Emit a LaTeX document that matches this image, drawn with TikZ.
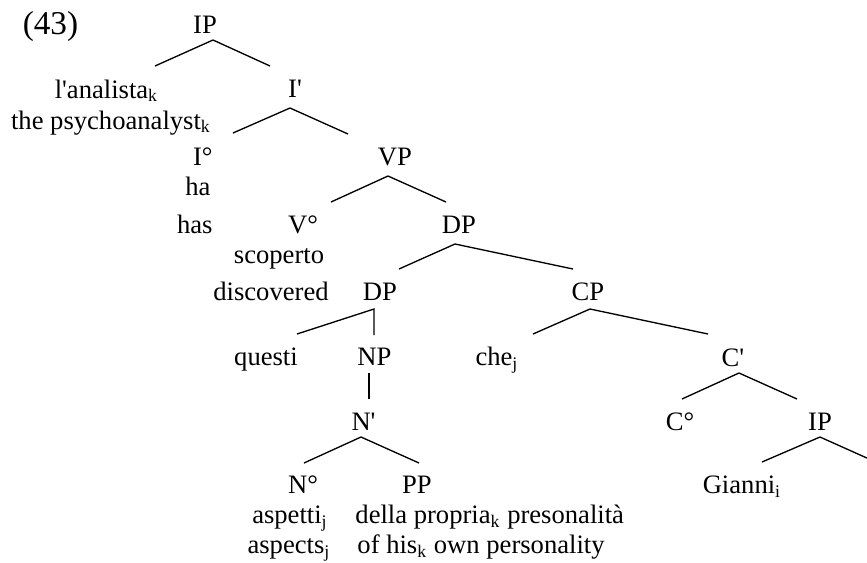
\documentclass[tikz,border=0pt]{standalone}
\usepackage{fontspec}
\setmainfont{Liberation Serif}
\usepackage{tikz}
\usetikzlibrary{positioning}
\newcommand{\apos}{\textquotesingle}

\begin{document}
\begin{tikzpicture}[x=0.451pt,y=-0.451pt,font=\fontsize{12}{14}\selectfont,word/.style = {inner sep = 0pt, anchor = base},wordr/.style = {inner sep = 0pt, anchor = base east},wordl/.style = {inner sep = 0pt, anchor = base west},branch/.style = {line width = 0.6pt},]
\clip (0,0) rectangle (867,562);
\node (ex) at (50.5,34)[word,font=\fontsize{15}{17}\selectfont] {(43)};
\node (IP) at (205,33)[word] {IP};
\node (lanalista) at (106.5,98)[word] {l\apos analista\textsubscript{k}};
\node (psycho) at (111,129)[word] {the psychoanalyst\textsubscript{k}};
\node (Ibar) at (295,97)[word] {I\apos};
\node (Izero) at (213,165)[wordr] {I°};
\node (ha) at (211,195)[wordr] {ha};
\node (has) at (213,233)[wordr] {has};
\node (VP) at (395,165)[word] {VP};
\node (Vzero) at (303,233)[word] {V°};
\node (scoperto) at (279,263)[word] {scoperto};
\node (discovered) at (271,300)[word] {discovered};
\node (DPa) at (459,233)[word] {DP};
\node (DPb) at (380,300)[word] {DP};
\node (CP) at (588,300)[word] {CP};
\node (questi) at (266,365)[word] {questi};
\node (NP) at (374.5,365)[word] {NP};
\node (che) at (497,365)[word] {che\textsubscript{j}};
\node (Cbar) at (733,366)[word] {C\apos};
\node (Nbar) at (363.5,430)[word] {N\apos};
\node (Czero) at (680,430)[word] {C°};
\node (IPb) at (820,430)[word] {IP};
\node (Nzero) at (303,493)[word] {N°};
\node (PP) at (417,493)[word] {PP};
\node (Gianni) at (742,493)[word] {Gianni\textsubscript{i}};
\node (aspetti) at (290,523)[word] {aspetti\textsubscript{j}};
\node (aspects) at (289,553)[word] {aspects\textsubscript{j}};
\node (della) at (355,523)[wordl] {della propria\textsubscript{k} presonalità};
\node (ofhis) at (357,553)[wordl] {of his\textsubscript{k} own personality};
\coordinate (IPt) at (213,40);
\coordinate (IPl) at (155,66);
\coordinate (IPr) at (270,66);
\coordinate (Ibart) at (290,108);
\coordinate (Ibarl) at (233,133);
\coordinate (Ibarr) at (348,134);
\coordinate (VPt) at (388,176);
\coordinate (VPl) at (331,202);
\coordinate (VPr) at (446,202);
\coordinate (DPat) at (455,244);
\coordinate (DPal) at (399,269);
\coordinate (DPar) at (573,269);
\coordinate (DPbt) at (374,309);
\coordinate (DPbl) at (297,334);
\coordinate (DPbr) at (374,335);
\coordinate (NPt) at (369,373);
\coordinate (NPb) at (369,399);
\coordinate (CPt) at (590,309);
\coordinate (CPl) at (533,334);
\coordinate (CPr) at (708,334);
\coordinate (Cbart) at (739,373);
\coordinate (Cbarl) at (682,399);
\coordinate (Cbarr) at (797,399);
\coordinate (Nbart) at (361,437);
\coordinate (Nbarl) at (304,463);
\coordinate (Nbarr) at (419,463);
\coordinate (IPbt) at (820,437);
\coordinate (IPbl) at (762,462);
\coordinate (IPbr) at (878,463);
\draw[branch] (IPl)--(IPt)--(IPr);
\draw[branch] (Ibarl)--(Ibart)--(Ibarr);
\draw[branch] (VPl)--(VPt)--(VPr);
\draw[branch] (DPal)--(DPat)--(DPar);
\draw[branch] (DPbl)--(DPbt)--(DPbr);
\draw[branch] (NPt)--(NPb);
\draw[branch] (CPl)--(CPt)--(CPr);
\draw[branch] (Cbarl)--(Cbart)--(Cbarr);
\draw[branch] (Nbarl)--(Nbart)--(Nbarr);
\draw[branch] (IPbl)--(IPbt)--(IPbr);
\end{tikzpicture}
\end{document}
